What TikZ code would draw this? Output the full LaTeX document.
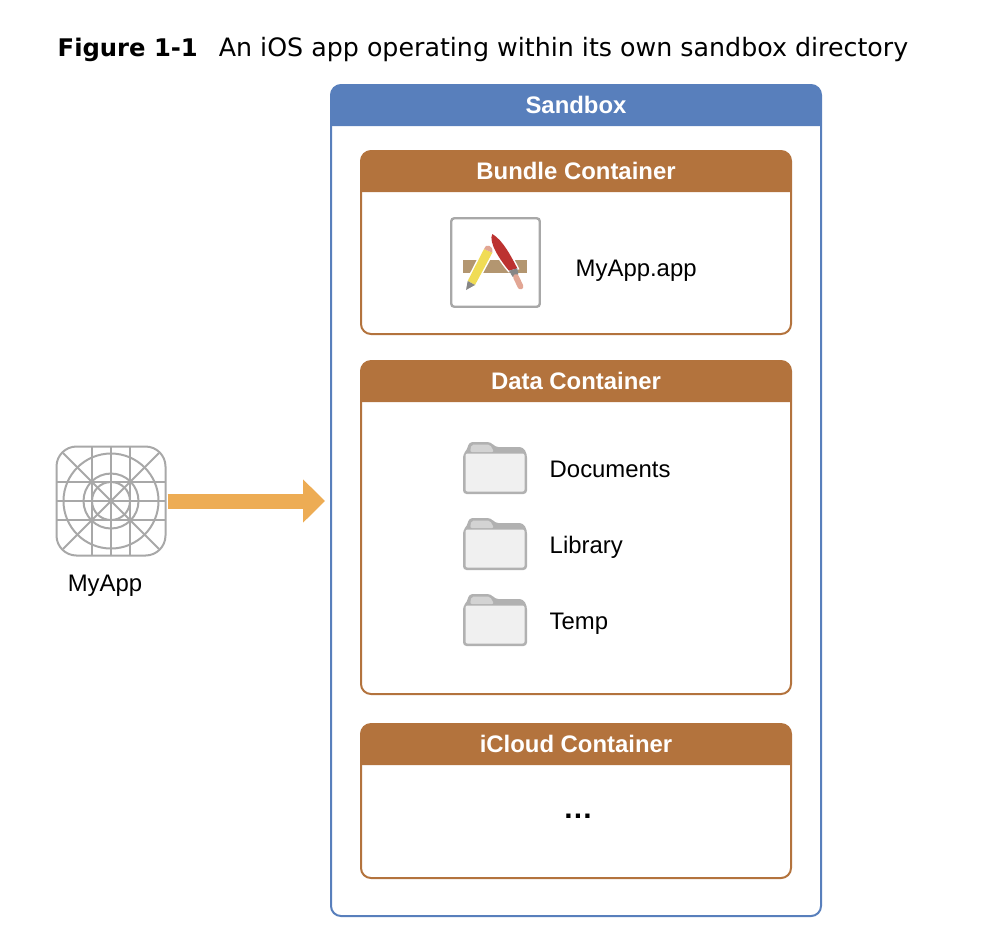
\documentclass[tikz,border=0pt]{standalone}
\usepackage{fontspec}
\setmainfont{Liberation Sans}
\newfontfamily\captionfont{DejaVu Sans}
\usetikzlibrary{arrows.meta}

\definecolor{sandboxblue}{HTML}{587FBC}
\definecolor{containerbrown}{HTML}{B3733D}
\definecolor{arroworange}{HTML}{EDAC54}
\definecolor{icongray}{HTML}{A8A8A8}
\definecolor{bandtan}{HTML}{B39670}
\definecolor{pencilyellow}{HTML}{F0DC55}
\definecolor{brushred}{HTML}{BC3230}
\definecolor{handlepink}{HTML}{E2A694}

\tikzset{
  label text/.style={font=\fontsize{6.8pt}{8pt}\selectfont,inner sep=0pt,anchor=base west},
  title text/.style={font=\fontsize{6.8pt}{8pt}\selectfont\bfseries,text=white,inner sep=0pt},
  frame box/.style={draw=#1,line width=.02cm,rounded corners=.1cm,outer sep=0pt,inner sep=0pt,minimum width=4.3cm},
  halo/.style={preaction={draw=white,line width=.03cm}},
  folder icon/.pic={
    \fill[icongray!90,rounded corners=.035cm]
      (-.32,-.26) -- (-.32,.14) -- (-.28,.18) -- (-.26,.26) -- (-.04,.26) -- (0,.21) -- (.28,.21) -- (.32,.14) -- (.32,-.26) -- cycle;
    \fill[icongray!50,rounded corners=.02cm] (-.25,.16) -- (-.235,.235) -- (-.05,.235) -- (-.01,.16) -- cycle;
    \fill[black!6,rounded corners=.02cm] (-.295,-.235) rectangle (.295,.145);
  }
}

\begin{document}
\begin{tikzpicture}
  \useasboundingbox (0,0) rectangle (10,-9.46);

  \node (caption) [inner sep=0pt,anchor=base west] at (.57,-.56) {\captionfont\fontsize{6.9pt}{8pt}\selectfont\textbf{Figure 1-1}\hspace{.21cm}\fontsize{7.2pt}{8pt}\selectfont An iOS app operating within its own sandbox directory};

  % sandbox
  \node (sandbox) [frame box=sandboxblue,minimum width=4.9cm,minimum height=8.31cm] at (5.76,-5.005) {};
  \fill[sandboxblue] (3.31,-1.26) [rounded corners=.1cm] -- (sandbox.north west) -- (sandbox.north east) [sharp corners] -- (8.21,-1.26) -- cycle;
  \node (sandboxtitle) [title text] at (5.76,-1.05) {Sandbox};

  % bundle container
  \node (bundle) [frame box=containerbrown,minimum height=1.83cm] at (5.76,-2.425) {};
  \fill[containerbrown] (3.61,-1.92) [rounded corners=.1cm] -- (bundle.north west) -- (bundle.north east) [sharp corners] -- (7.91,-1.92) -- cycle;
  \node (bundletitle) [title text] at (5.76,-1.71) {Bundle Container};

  % data container
  \node (data) [frame box=containerbrown,minimum height=3.33cm] at (5.76,-5.275) {};
  \fill[containerbrown] (3.61,-4.02) [rounded corners=.1cm] -- (data.north west) -- (data.north east) [sharp corners] -- (7.91,-4.02) -- cycle;
  \node (datatitle) [title text] at (5.76,-3.81) {Data Container};

  % icloud container
  \node (icloud) [frame box=containerbrown,minimum height=1.54cm] at (5.76,-8.01) {};
  \fill[containerbrown] (3.61,-7.65) [rounded corners=.1cm] -- (icloud.north west) -- (icloud.north east) [sharp corners] -- (7.91,-7.65) -- cycle;
  \node (icloudtitle) [title text] at (5.76,-7.44) {iCloud Container};
  \node (more) [inner sep=0pt,anchor=base,font=\fontsize{8.5pt}{9pt}\selectfont\bfseries] at (5.78,-8.185) {…};

  % app file icon
  \node (appfile) [draw=icongray,line width=.024cm,rounded corners=.03cm,minimum size=.885cm,inner sep=0pt,outer sep=0pt] at (4.955,-2.625) {};
  \fill[bandtan] (4.63,-2.6) rectangle (5.27,-2.73);
  \fill[pencilyellow,halo] (4.677,-2.81) -- (4.75,-2.85) -- (4.923,-2.527) -- (4.84,-2.49) -- cycle;
  \fill[icongray!80!black] (4.66,-2.9) -- (4.677,-2.81) -- (4.75,-2.85) -- cycle;
  \fill[handlepink] (4.84,-2.49) .. controls (4.85,-2.43) and (4.94,-2.45) .. (4.923,-2.527) -- cycle;
  \fill[brushred,halo] (4.923,-2.34) .. controls (5.03,-2.40) and (5.12,-2.58) .. (5.173,-2.683) -- (5.09,-2.707) .. controls (5.0,-2.60) and (4.88,-2.42) .. (4.923,-2.34) -- cycle;
  \fill[icongray!80!black] (5.09,-2.707) -- (5.173,-2.683) -- (5.183,-2.743) -- (5.127,-2.77) -- cycle;
  \draw[handlepink,line width=.058cm,line cap=round] (5.16,-2.77) -- (5.205,-2.865);
  \node (appname) [label text] at (5.75,-2.76) {MyApp.app};

  % folders
  \pic at (4.95,-4.68) {folder icon};
  \pic at (4.95,-5.44) {folder icon};
  \pic at (4.95,-6.20) {folder icon};
  \node (documents) [label text] at (5.49,-4.77) {Documents};
  \node (library) [label text] at (5.49,-5.53) {Library};
  \node (temp) [label text] at (5.49,-6.29) {Temp};

  % app icon
  \node (myapp) [draw=icongray,line width=.02cm,rounded corners=.2cm,minimum size=1.09cm,inner sep=0pt,outer sep=0pt] at (1.11,-5.01) {};
  \begin{scope}[icongray,line width=.02cm,shift={(myapp.center)}]
    \draw (0,0) circle (.475);
    \draw (0,0) circle (.275);
    \draw (0,0) circle (.19);
    \draw (-.545,.19) -- (.545,.19);
    \draw (-.545,0) -- (.545,0);
    \draw (-.545,-.19) -- (.545,-.19);
    \draw (-.19,.545) -- (-.19,-.545);
    \draw (0,.545) -- (0,-.545);
    \draw (.19,.545) -- (.19,-.545);
    \draw (-.48,.48) -- (.48,-.48);
    \draw (-.48,-.48) -- (.48,.48);
  \end{scope}
  \node (myappname) [label text,anchor=base] at (1.05,-5.91) {MyApp};

  \draw[arroworange,line width=.15cm,-{Triangle[length=.22cm,width=.42cm]},shorten <=.02cm,shorten >=.06cm] (myapp.east) -- (myapp.east -| sandbox.west);

\end{tikzpicture}
\end{document}
